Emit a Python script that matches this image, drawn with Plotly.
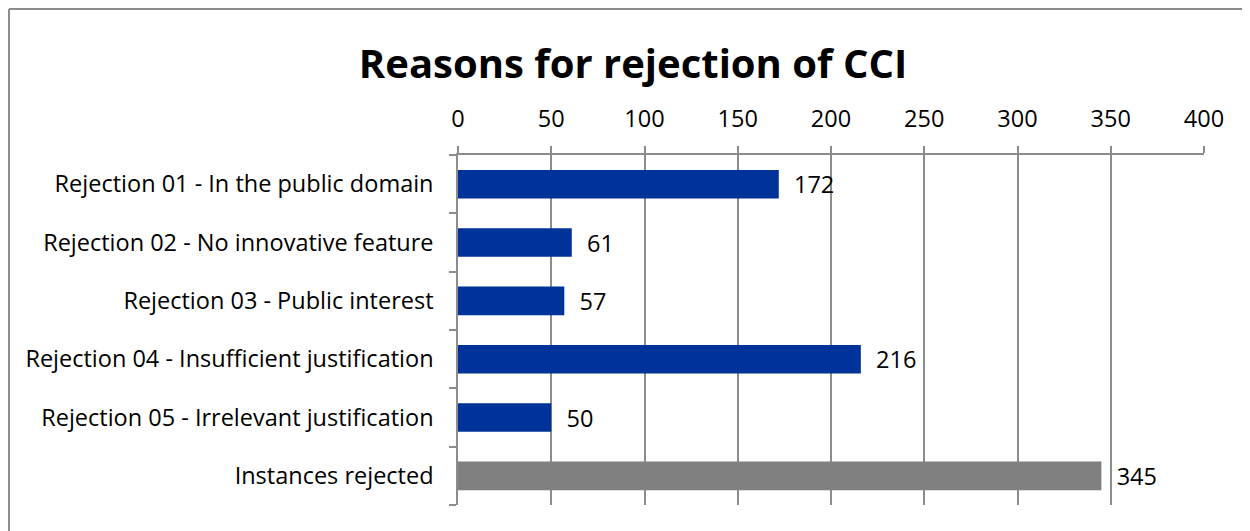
import plotly.graph_objects as go

categories = [
    "Rejection 01 - In the public domain",
    "Rejection 02 - No innovative feature",
    "Rejection 03 - Public interest",
    "Rejection 04 - Insufficient justification",
    "Rejection 05 - Irrelevant justification",
    "Instances rejected",
]
values = [172, 61, 57, 216, 50, 345]
bar_colors = ["#003399"] * 5 + ["#808080"]
x_ticks = [0, 50, 100, 150, 200, 250, 300, 350, 400]

FONT = "Open Sans, Liberation Sans, sans-serif"
GRID = "#8c8c8c"
FS = 23.5

fig = go.Figure(
    go.Bar(
        y=categories,
        x=values,
        orientation="h",
        marker=dict(color=bar_colors, line=dict(width=0)),
        width=0.49,
        text=values,
        texttemplate="  %{x}",
        textposition="outside",
        constraintext="none",
        textfont=dict(size=FS, color="black", family=FONT),
        cliponaxis=False,
        hoverinfo="x+y",
    )
)

fig.update_layout(
    width=1250,
    height=531,
    margin=dict(l=450, r=54, t=147, b=34),
    paper_bgcolor="white",
    plot_bgcolor="white",
    showlegend=False,
    font=dict(family=FONT, size=FS, color="black"),
    title=dict(
        text="<b>Reasons for rejection of CCI</b>",
        x=0.5,
        xanchor="center",
        y=0.895,
        yanchor="middle",
        font=dict(size=40, family=FONT, color="black"),
    ),
)

fig.update_xaxes(
    side="top",
    range=[0, 400],
    tickvals=x_ticks,
    showgrid=True,
    gridcolor=GRID,
    gridwidth=1.5,
    zeroline=False,
    showline=True,
    linecolor=GRID,
    linewidth=1.5,
    ticks="outside",
    ticklen=7,
    tickwidth=1.5,
    tickcolor=GRID,
    ticklabelstandoff=10,
    tickfont=dict(size=FS),
)

fig.update_yaxes(
    categoryorder="array",
    categoryarray=categories[::-1],
    autorange=False,
    range=[-0.5, 5.5],
    showline=True,
    linecolor=GRID,
    linewidth=1.5,
    ticks="outside",
    tickson="boundaries",
    ticklen=7,
    tickwidth=1.5,
    tickcolor=GRID,
    ticklabelstandoff=18,
    showgrid=False,
    tickfont=dict(size=FS),
)

# outer chart frame, drawn as separate edges
frame_left = -449 / 746
frame_top = 1 + 146 / 350
for x0, y0, x1, y1 in [
    (frame_left, -60 / 350, frame_left, frame_top),
    (frame_left, frame_top, 820 / 746, frame_top),
]:
    fig.add_shape(
        type="line",
        xref="paper",
        yref="paper",
        x0=x0,
        y0=y0,
        x1=x1,
        y1=y1,
        line=dict(color="#8c8c8c", width=2),
        layer="above",
    )

fig.write_html("out.html")
